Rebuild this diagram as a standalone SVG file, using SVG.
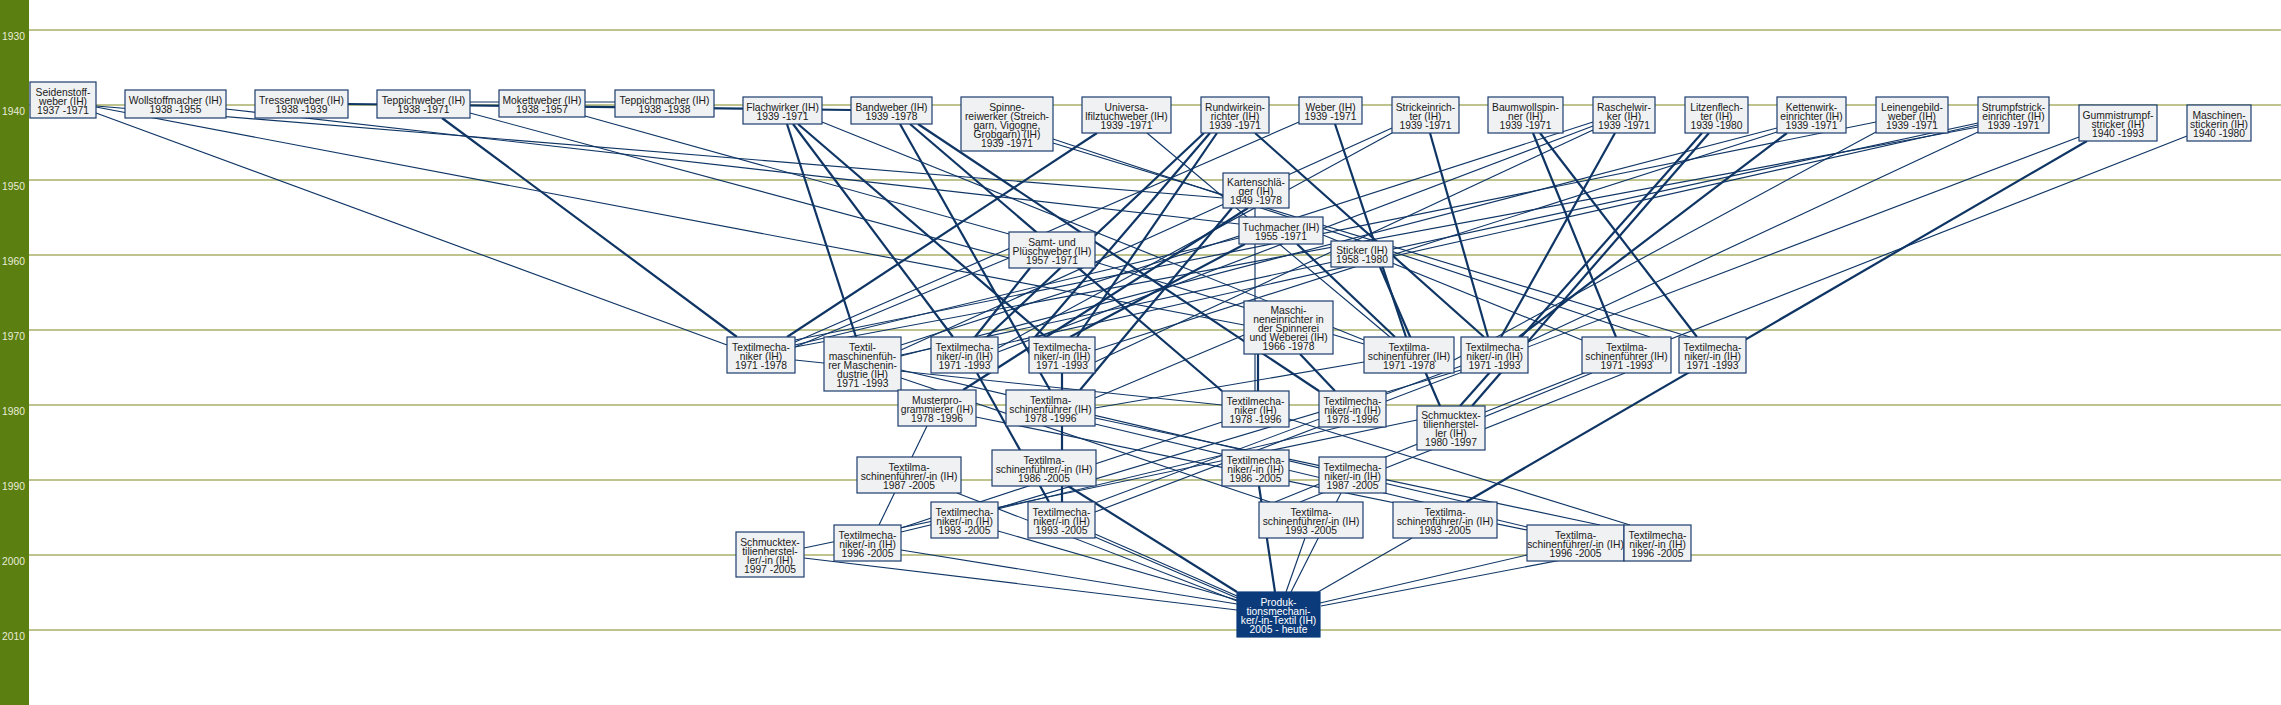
<svg xmlns="http://www.w3.org/2000/svg" width="2281" height="705" viewBox="0 0 2281 705">
<style>
.grid line{stroke:#808a1e;stroke-width:1.2}
.yr{font-family:"Liberation Sans",Arial,sans-serif;font-size:10.3px;fill:#e8ecd8}
.edges line{stroke:#0f3565;stroke-width:1.15;fill:none}
.edges line.k{stroke-width:2.2}
.n rect{fill:#eff1f3;stroke:#1c3d6e;stroke-width:1.2}
.n text{font-family:"Liberation Sans",Arial,sans-serif;font-size:10.3px;fill:#1a1a1a;text-anchor:middle}
.f rect{fill:#0b3b7b;stroke:#0b3b7b;stroke-width:1.2}
.f text{font-family:"Liberation Sans",Arial,sans-serif;font-size:10.3px;fill:#ffffff;text-anchor:middle}
</style>
<rect x="0" y="0" width="2281" height="705" fill="#ffffff"/>
<g id="timeline">
<rect x="0" y="0" width="29" height="705" fill="#5b7f10"/>
<g class="grid">
<line x1="29" y1="30" x2="2281" y2="30"/>
<line x1="29" y1="105" x2="2281" y2="105"/>
<line x1="29" y1="180" x2="2281" y2="180"/>
<line x1="29" y1="255" x2="2281" y2="255"/>
<line x1="29" y1="330" x2="2281" y2="330"/>
<line x1="29" y1="405" x2="2281" y2="405"/>
<line x1="29" y1="480" x2="2281" y2="480"/>
<line x1="29" y1="555" x2="2281" y2="555"/>
<line x1="29" y1="630" x2="2281" y2="630"/>
</g>
<text class="yr" x="2" y="40">1930</text>
<text class="yr" x="2" y="115">1940</text>
<text class="yr" x="2" y="190">1950</text>
<text class="yr" x="2" y="265">1960</text>
<text class="yr" x="2" y="340">1970</text>
<text class="yr" x="2" y="415">1980</text>
<text class="yr" x="2" y="490">1990</text>
<text class="yr" x="2" y="565">2000</text>
<text class="yr" x="2" y="640">2010</text>
</g>
<g id="connectors" class="edges">
<line class="k" x1="348" y1="104" x2="851" y2="110"/>
<line x1="470" y1="102" x2="615" y2="102"/>
<line x1="96" y1="113" x2="727" y2="345"/>
<line x1="96" y1="107" x2="1244" y2="325"/>
<line x1="96" y1="106" x2="1223" y2="198"/>
<line x1="226" y1="109" x2="1239" y2="224"/>
<line class="k" x1="442" y1="118" x2="737" y2="337"/>
<line x1="470" y1="113" x2="1009" y2="258"/>
<line x1="585" y1="116" x2="1009" y2="234"/>
<line class="k" x1="787" y1="124" x2="856" y2="337"/>
<line class="k" x1="793" y1="124" x2="953" y2="337"/>
<line class="k" x1="798" y1="124" x2="1046" y2="337"/>
<line x1="822" y1="122" x2="1364" y2="340"/>
<line class="k" x1="900" y1="124" x2="1050" y2="390"/>
<line class="k" x1="910" y1="124" x2="1222" y2="391"/>
<line class="k" x1="918" y1="124" x2="1319" y2="391"/>
<line x1="1053" y1="139" x2="1650" y2="337"/>
<line x1="1053" y1="143" x2="1690" y2="337"/>
<line class="k" x1="1097" y1="133" x2="787" y2="337"/>
<line x1="1147" y1="133" x2="1390" y2="337"/>
<line class="k" x1="1204" y1="133" x2="987" y2="337"/>
<line class="k" x1="1210" y1="133" x2="1035" y2="337"/>
<line class="k" x1="1217" y1="133" x2="1077" y2="337"/>
<line class="k" x1="1255" y1="133" x2="1484" y2="337"/>
<line x1="1299" y1="122" x2="795" y2="342"/>
<line class="k" x1="1335" y1="124" x2="1406" y2="337"/>
<line class="k" x1="1430" y1="133" x2="1488" y2="337"/>
<line x1="1392" y1="128" x2="901" y2="350"/>
<line x1="1392" y1="133" x2="998" y2="348"/>
<line class="k" x1="1533" y1="133" x2="1616" y2="337"/>
<line class="k" x1="1540" y1="133" x2="1697" y2="337"/>
<line class="k" x1="1615" y1="133" x2="1501" y2="337"/>
<line x1="1593" y1="122" x2="901" y2="345"/>
<line x1="1593" y1="126" x2="998" y2="352"/>
<line x1="1593" y1="130" x2="1095" y2="362"/>
<line class="k" x1="1702" y1="133" x2="1460" y2="406"/>
<line class="k" x1="1709" y1="133" x2="1472" y2="406"/>
<line class="k" x1="1787" y1="133" x2="1519" y2="337"/>
<line x1="1777" y1="128" x2="901" y2="356"/>
<line x1="1777" y1="132" x2="1095" y2="350"/>
<line x1="1876" y1="122" x2="795" y2="340"/>
<line x1="1876" y1="132" x2="1454" y2="360"/>
<line x1="1978" y1="123" x2="901" y2="355"/>
<line x1="1978" y1="125" x2="998" y2="345"/>
<line x1="1978" y1="127" x2="795" y2="347"/>
<line x1="1978" y1="132" x2="1528" y2="342"/>
<line class="k" x1="2087" y1="141" x2="1466" y2="502"/>
<line x1="2079" y1="137" x2="1095" y2="512"/>
<line x1="2187" y1="136" x2="1485" y2="412"/>
<line class="k" x1="1248" y1="208" x2="963" y2="390"/>
<line x1="1255" y1="208" x2="1255" y2="391"/>
<line class="k" x1="1232" y1="208" x2="1080" y2="390"/>
<line class="k" x1="1297" y1="244" x2="1395" y2="337"/>
<line class="k" x1="1245" y1="244" x2="1070" y2="337"/>
<line x1="1239" y1="238" x2="795" y2="345"/>
<line x1="1323" y1="235" x2="1582" y2="340"/>
<line class="k" x1="1380" y1="267" x2="1440" y2="406"/>
<line x1="1009" y1="258" x2="795" y2="347"/>
<line x1="1095" y1="262" x2="1364" y2="344"/>
<line class="k" x1="1030" y1="268" x2="975" y2="337"/>
<line class="k" x1="1258" y1="354" x2="1258" y2="391"/>
<line class="k" x1="1300" y1="354" x2="1335" y2="391"/>
<line x1="1244" y1="335" x2="1095" y2="398"/>
<line x1="795" y1="360" x2="1222" y2="405"/>
<line x1="1364" y1="362" x2="1095" y2="408"/>
<line x1="901" y1="370" x2="1465" y2="502"/>
<line x1="901" y1="378" x2="1270" y2="502"/>
<line class="k" x1="977" y1="373" x2="1049" y2="502"/>
<line class="k" x1="1062" y1="373" x2="1062" y2="502"/>
<line x1="1461" y1="366" x2="1095" y2="503"/>
<line x1="1461" y1="370" x2="998" y2="508"/>
<line x1="1592" y1="373" x2="1275" y2="502"/>
<line x1="1625" y1="373" x2="1300" y2="502"/>
<line x1="927" y1="426" x2="879" y2="525"/>
<line x1="976" y1="417" x2="1527" y2="530"/>
<line x1="1095" y1="418" x2="1600" y2="525"/>
<line x1="1095" y1="424" x2="1527" y2="527"/>
<line x1="1289" y1="419" x2="1630" y2="525"/>
<line x1="1417" y1="420" x2="804" y2="548"/>
<line x1="1340" y1="427" x2="901" y2="532"/>
<line x1="1222" y1="422" x2="901" y2="528"/>
<line x1="804" y1="558" x2="1237" y2="610"/>
<line x1="901" y1="550" x2="1237" y2="604"/>
<line x1="998" y1="531" x2="1237" y2="600"/>
<line x1="1095" y1="534" x2="1237" y2="596"/>
<line x1="1095" y1="537" x2="1237" y2="598"/>
<line x1="957" y1="493" x2="1237" y2="601"/>
<line class="k" x1="1068" y1="486" x2="1237" y2="592"/>
<line class="k" x1="1259" y1="486" x2="1275" y2="592"/>
<line x1="1341" y1="493" x2="1291" y2="592"/>
<line x1="1305" y1="538" x2="1286" y2="592"/>
<line x1="1412" y1="538" x2="1318" y2="592"/>
<line x1="1527" y1="555" x2="1320" y2="603"/>
<line x1="1624" y1="548" x2="1321" y2="606"/>
</g>
<g id="n-seidenstoffweber" class="n"><rect x="30" y="82" width="66" height="36"/><text><tspan x="63" y="95.5">Seidenstoff-</tspan><tspan x="63" y="104.5">weber (IH)</tspan><tspan x="63" y="113.5">1937 -1971</tspan></text></g>
<g id="n-wollstoffmacher" class="n"><rect x="125" y="90" width="101" height="28"/><text><tspan x="175.5" y="104">Wollstoffmacher (IH)</tspan><tspan x="175.5" y="113">1938 -1955</tspan></text></g>
<g id="n-tressenweber" class="n"><rect x="255" y="90" width="93" height="28"/><text><tspan x="301.5" y="104">Tressenweber (IH)</tspan><tspan x="301.5" y="113">1938 -1939</tspan></text></g>
<g id="n-teppichweber" class="n"><rect x="377" y="90" width="93" height="28"/><text><tspan x="423.5" y="104">Teppichweber (IH)</tspan><tspan x="423.5" y="113">1938 -1971</tspan></text></g>
<g id="n-mokettweber" class="n"><rect x="499" y="90" width="86" height="27"/><text><tspan x="542" y="103.5">Mokettweber (IH)</tspan><tspan x="542" y="112.5">1938 -1957</tspan></text></g>
<g id="n-teppichmacher" class="n"><rect x="615" y="90" width="99" height="27"/><text><tspan x="664.5" y="103.5">Teppichmacher (IH)</tspan><tspan x="664.5" y="112.5">1938 -1938</tspan></text></g>
<g id="n-flachwirker" class="n"><rect x="743" y="97" width="79" height="27"/><text><tspan x="782.5" y="110.5">Flachwirker (IH)</tspan><tspan x="782.5" y="119.5">1939 -1971</tspan></text></g>
<g id="n-bandweber" class="n"><rect x="851" y="97" width="81" height="27"/><text><tspan x="891.5" y="110.5">Bandweber (IH)</tspan><tspan x="891.5" y="119.5">1939 -1978</tspan></text></g>
<g id="n-spinnereiwerker" class="n"><rect x="961" y="97" width="92" height="54"/><text><tspan x="1007" y="110.5">Spinne-</tspan><tspan x="1007" y="119.5">reiwerker (Streich-</tspan><tspan x="1007" y="128.5">garn, Vigogne,</tspan><tspan x="1007" y="137.5">Grobgarn) (IH)</tspan><tspan x="1007" y="146.5">1939 -1971</tspan></text></g>
<g id="n-universalfilztuchweber" class="n"><rect x="1082" y="97" width="89" height="36"/><text><tspan x="1126.5" y="110.5">Universa-</tspan><tspan x="1126.5" y="119.5">lfilztuchweber (IH)</tspan><tspan x="1126.5" y="128.5">1939 -1971</tspan></text></g>
<g id="n-rundwirkeinrichter" class="n"><rect x="1201" y="97" width="68" height="36"/><text><tspan x="1235" y="110.5">Rundwirkein-</tspan><tspan x="1235" y="119.5">richter (IH)</tspan><tspan x="1235" y="128.5">1939 -1971</tspan></text></g>
<g id="n-weber" class="n"><rect x="1299" y="97" width="63" height="27"/><text><tspan x="1330.5" y="110.5">Weber (IH)</tspan><tspan x="1330.5" y="119.5">1939 -1971</tspan></text></g>
<g id="n-strickeinrichter" class="n"><rect x="1392" y="97" width="67" height="36"/><text><tspan x="1425.5" y="110.5">Strickeinrich-</tspan><tspan x="1425.5" y="119.5">ter (IH)</tspan><tspan x="1425.5" y="128.5">1939 -1971</tspan></text></g>
<g id="n-baumwollspinner" class="n"><rect x="1488" y="97" width="75" height="36"/><text><tspan x="1525.5" y="110.5">Baumwollspin-</tspan><tspan x="1525.5" y="119.5">ner (IH)</tspan><tspan x="1525.5" y="128.5">1939 -1971</tspan></text></g>
<g id="n-raschelwirker" class="n"><rect x="1593" y="97" width="62" height="36"/><text><tspan x="1624" y="110.5">Raschelwir-</tspan><tspan x="1624" y="119.5">ker (IH)</tspan><tspan x="1624" y="128.5">1939 -1971</tspan></text></g>
<g id="n-litzenflechter" class="n"><rect x="1685" y="97" width="63" height="36"/><text><tspan x="1716.5" y="110.5">Litzenflech-</tspan><tspan x="1716.5" y="119.5">ter (IH)</tspan><tspan x="1716.5" y="128.5">1939 -1980</tspan></text></g>
<g id="n-kettenwirkeinrichter" class="n"><rect x="1777" y="97" width="69" height="36"/><text><tspan x="1811.5" y="110.5">Kettenwirk-</tspan><tspan x="1811.5" y="119.5">einrichter (IH)</tspan><tspan x="1811.5" y="128.5">1939 -1971</tspan></text></g>
<g id="n-leinengebildweber" class="n"><rect x="1876" y="97" width="72" height="36"/><text><tspan x="1912" y="110.5">Leinengebild-</tspan><tspan x="1912" y="119.5">weber (IH)</tspan><tspan x="1912" y="128.5">1939 -1971</tspan></text></g>
<g id="n-strumpfstrickeinrichter" class="n"><rect x="1978" y="97" width="71" height="36"/><text><tspan x="2013.5" y="110.5">Strumpfstrick-</tspan><tspan x="2013.5" y="119.5">einrichter (IH)</tspan><tspan x="2013.5" y="128.5">1939 -1971</tspan></text></g>
<g id="n-gummistrumpfstricker" class="n"><rect x="2079" y="105" width="78" height="36"/><text><tspan x="2118" y="118.5">Gummistrumpf-</tspan><tspan x="2118" y="127.5">stricker (IH)</tspan><tspan x="2118" y="136.5">1940 -1993</tspan></text></g>
<g id="n-maschinenstickerin" class="n"><rect x="2187" y="105" width="64" height="36"/><text><tspan x="2219" y="118.5">Maschinen-</tspan><tspan x="2219" y="127.5">stickerin (IH)</tspan><tspan x="2219" y="136.5">1940 -1980</tspan></text></g>
<g id="n-kartenschlaeger" class="n"><rect x="1223" y="173" width="66" height="35"/><text><tspan x="1256" y="186">Kartenschlä-</tspan><tspan x="1256" y="195">ger (IH)</tspan><tspan x="1256" y="204">1949 -1978</tspan></text></g>
<g id="n-tuchmacher" class="n"><rect x="1239" y="217" width="84" height="27"/><text><tspan x="1281" y="230.5">Tuchmacher (IH)</tspan><tspan x="1281" y="239.5">1955 -1971</tspan></text></g>
<g id="n-sticker" class="n"><rect x="1331" y="241" width="62" height="26"/><text><tspan x="1362" y="254">Sticker (IH)</tspan><tspan x="1362" y="263">1958 -1980</tspan></text></g>
<g id="n-samt-pluesch" class="n"><rect x="1009" y="232" width="86" height="36"/><text><tspan x="1052" y="245.5">Samt- und</tspan><tspan x="1052" y="254.5">Plüschweber (IH)</tspan><tspan x="1052" y="263.5">1957 -1971</tspan></text></g>
<g id="n-maschineneinrichter" class="n"><rect x="1244" y="301" width="89" height="53"/><text><tspan x="1288.5" y="314">Maschi-</tspan><tspan x="1288.5" y="323">neneinrichter in</tspan><tspan x="1288.5" y="332">der Spinnerei</tspan><tspan x="1288.5" y="341">und Weberei (IH)</tspan><tspan x="1288.5" y="350">1966 -1978</tspan></text></g>
<g id="n-textilmechaniker-1971-1978" class="n"><rect x="727" y="337" width="68" height="36"/><text><tspan x="761" y="350.5">Textilmecha-</tspan><tspan x="761" y="359.5">niker (IH)</tspan><tspan x="761" y="368.5">1971 -1978</tspan></text></g>
<g id="n-textilmaschinenfuehrer-maschen" class="n"><rect x="824" y="337" width="77" height="54"/><text><tspan x="862.5" y="350.5">Textil-</tspan><tspan x="862.5" y="359.5">maschinenfüh-</tspan><tspan x="862.5" y="368.5">rer Maschenin-</tspan><tspan x="862.5" y="377.5">dustrie (IH)</tspan><tspan x="862.5" y="386.5">1971 -1993</tspan></text></g>
<g id="n-textilmechaniker-1971-a" class="n"><rect x="931" y="337" width="67" height="36"/><text><tspan x="964.5" y="350.5">Textilmecha-</tspan><tspan x="964.5" y="359.5">niker/-in (IH)</tspan><tspan x="964.5" y="368.5">1971 -1993</tspan></text></g>
<g id="n-textilmechaniker-1971-b" class="n"><rect x="1029" y="337" width="66" height="36"/><text><tspan x="1062" y="350.5">Textilmecha-</tspan><tspan x="1062" y="359.5">niker/-in (IH)</tspan><tspan x="1062" y="368.5">1971 -1993</tspan></text></g>
<g id="n-textilmaschinenfuehrer-1971-1978" class="n"><rect x="1364" y="337" width="90" height="36"/><text><tspan x="1409" y="350.5">Textilma-</tspan><tspan x="1409" y="359.5">schinenführer (IH)</tspan><tspan x="1409" y="368.5">1971 -1978</tspan></text></g>
<g id="n-textilmechaniker-1971-c" class="n"><rect x="1461" y="337" width="67" height="36"/><text><tspan x="1494.5" y="350.5">Textilmecha-</tspan><tspan x="1494.5" y="359.5">niker/-in (IH)</tspan><tspan x="1494.5" y="368.5">1971 -1993</tspan></text></g>
<g id="n-textilmaschinenfuehrer-1971-1993" class="n"><rect x="1582" y="337" width="89" height="36"/><text><tspan x="1626.5" y="350.5">Textilma-</tspan><tspan x="1626.5" y="359.5">schinenführer (IH)</tspan><tspan x="1626.5" y="368.5">1971 -1993</tspan></text></g>
<g id="n-textilmechaniker-1971-d" class="n"><rect x="1679" y="337" width="67" height="36"/><text><tspan x="1712.5" y="350.5">Textilmecha-</tspan><tspan x="1712.5" y="359.5">niker/-in (IH)</tspan><tspan x="1712.5" y="368.5">1971 -1993</tspan></text></g>
<g id="n-musterprogrammierer" class="n"><rect x="898" y="390" width="78" height="36"/><text><tspan x="937" y="403.5">Musterpro-</tspan><tspan x="937" y="412.5">grammierer (IH)</tspan><tspan x="937" y="421.5">1978 -1996</tspan></text></g>
<g id="n-textilmaschinenfuehrer-1978" class="n"><rect x="1006" y="390" width="89" height="36"/><text><tspan x="1050.5" y="403.5">Textilma-</tspan><tspan x="1050.5" y="412.5">schinenführer (IH)</tspan><tspan x="1050.5" y="421.5">1978 -1996</tspan></text></g>
<g id="n-textilmechaniker-1978" class="n"><rect x="1222" y="391" width="67" height="36"/><text><tspan x="1255.5" y="404.5">Textilmecha-</tspan><tspan x="1255.5" y="413.5">niker (IH)</tspan><tspan x="1255.5" y="422.5">1978 -1996</tspan></text></g>
<g id="n-textilmechanikerin-1978" class="n"><rect x="1319" y="391" width="67" height="36"/><text><tspan x="1352.5" y="404.5">Textilmecha-</tspan><tspan x="1352.5" y="413.5">niker/-in (IH)</tspan><tspan x="1352.5" y="422.5">1978 -1996</tspan></text></g>
<g id="n-schmucktextilienhersteller" class="n"><rect x="1417" y="406" width="68" height="44"/><text><tspan x="1451" y="419">Schmucktex-</tspan><tspan x="1451" y="428">tilienherstel-</tspan><tspan x="1451" y="437">ler (IH)</tspan><tspan x="1451" y="446">1980 -1997</tspan></text></g>
<g id="n-textilmaschinenfuehrerin-1987" class="n"><rect x="857" y="457" width="104" height="36"/><text><tspan x="909" y="470.5">Textilma-</tspan><tspan x="909" y="479.5">schinenführer/-in (IH)</tspan><tspan x="909" y="488.5">1987 -2005</tspan></text></g>
<g id="n-textilmaschinenfuehrerin-1986" class="n"><rect x="992" y="450" width="104" height="36"/><text><tspan x="1044" y="463.5">Textilma-</tspan><tspan x="1044" y="472.5">schinenführer/-in (IH)</tspan><tspan x="1044" y="481.5">1986 -2005</tspan></text></g>
<g id="n-textilmechanikerin-1986" class="n"><rect x="1222" y="450" width="67" height="36"/><text><tspan x="1255.5" y="463.5">Textilmecha-</tspan><tspan x="1255.5" y="472.5">niker/-in (IH)</tspan><tspan x="1255.5" y="481.5">1986 -2005</tspan></text></g>
<g id="n-textilmechanikerin-1987" class="n"><rect x="1319" y="457" width="67" height="36"/><text><tspan x="1352.5" y="470.5">Textilmecha-</tspan><tspan x="1352.5" y="479.5">niker/-in (IH)</tspan><tspan x="1352.5" y="488.5">1987 -2005</tspan></text></g>
<g id="n-textilmechanikerin-1993-a" class="n"><rect x="931" y="502" width="67" height="36"/><text><tspan x="964.5" y="515.5">Textilmecha-</tspan><tspan x="964.5" y="524.5">niker/-in (IH)</tspan><tspan x="964.5" y="533.5">1993 -2005</tspan></text></g>
<g id="n-textilmechanikerin-1993-b" class="n"><rect x="1028" y="502" width="67" height="36"/><text><tspan x="1061.5" y="515.5">Textilmecha-</tspan><tspan x="1061.5" y="524.5">niker/-in (IH)</tspan><tspan x="1061.5" y="533.5">1993 -2005</tspan></text></g>
<g id="n-textilmaschinenfuehrerin-1993-a" class="n"><rect x="1259" y="502" width="104" height="36"/><text><tspan x="1311" y="515.5">Textilma-</tspan><tspan x="1311" y="524.5">schinenführer/-in (IH)</tspan><tspan x="1311" y="533.5">1993 -2005</tspan></text></g>
<g id="n-textilmaschinenfuehrerin-1993-b" class="n"><rect x="1393" y="502" width="104" height="36"/><text><tspan x="1445" y="515.5">Textilma-</tspan><tspan x="1445" y="524.5">schinenführer/-in (IH)</tspan><tspan x="1445" y="533.5">1993 -2005</tspan></text></g>
<g id="n-textilmechanikerin-1996-a" class="n"><rect x="834" y="525" width="67" height="36"/><text><tspan x="867.5" y="538.5">Textilmecha-</tspan><tspan x="867.5" y="547.5">niker/-in (IH)</tspan><tspan x="867.5" y="556.5">1996 -2005</tspan></text></g>
<g id="n-schmucktextilienherstellerin" class="n"><rect x="736" y="532" width="68" height="45"/><text><tspan x="770" y="546">Schmucktex-</tspan><tspan x="770" y="555">tilienherstel-</tspan><tspan x="770" y="564">ler/-in (IH)</tspan><tspan x="770" y="573">1997 -2005</tspan></text></g>
<g id="n-textilmaschinenfuehrerin-1996" class="n"><rect x="1527" y="525" width="97" height="36"/><text><tspan x="1575.5" y="538.5">Textilma-</tspan><tspan x="1575.5" y="547.5">schinenführer/-in (IH)</tspan><tspan x="1575.5" y="556.5">1996 -2005</tspan></text></g>
<g id="n-textilmechanikerin-1996-b" class="n"><rect x="1624" y="525" width="67" height="36"/><text><tspan x="1657.5" y="538.5">Textilmecha-</tspan><tspan x="1657.5" y="547.5">niker/-in (IH)</tspan><tspan x="1657.5" y="556.5">1996 -2005</tspan></text></g>
<g id="n-produktionsmechaniker-textil" class="f"><rect x="1237" y="592" width="83" height="45"/><text><tspan x="1278.5" y="606">Produk-</tspan><tspan x="1278.5" y="615">tionsmechani-</tspan><tspan x="1278.5" y="624">ker/-in-Textil (IH)</tspan><tspan x="1278.5" y="633">2005 - heute</tspan></text></g>
</svg>
